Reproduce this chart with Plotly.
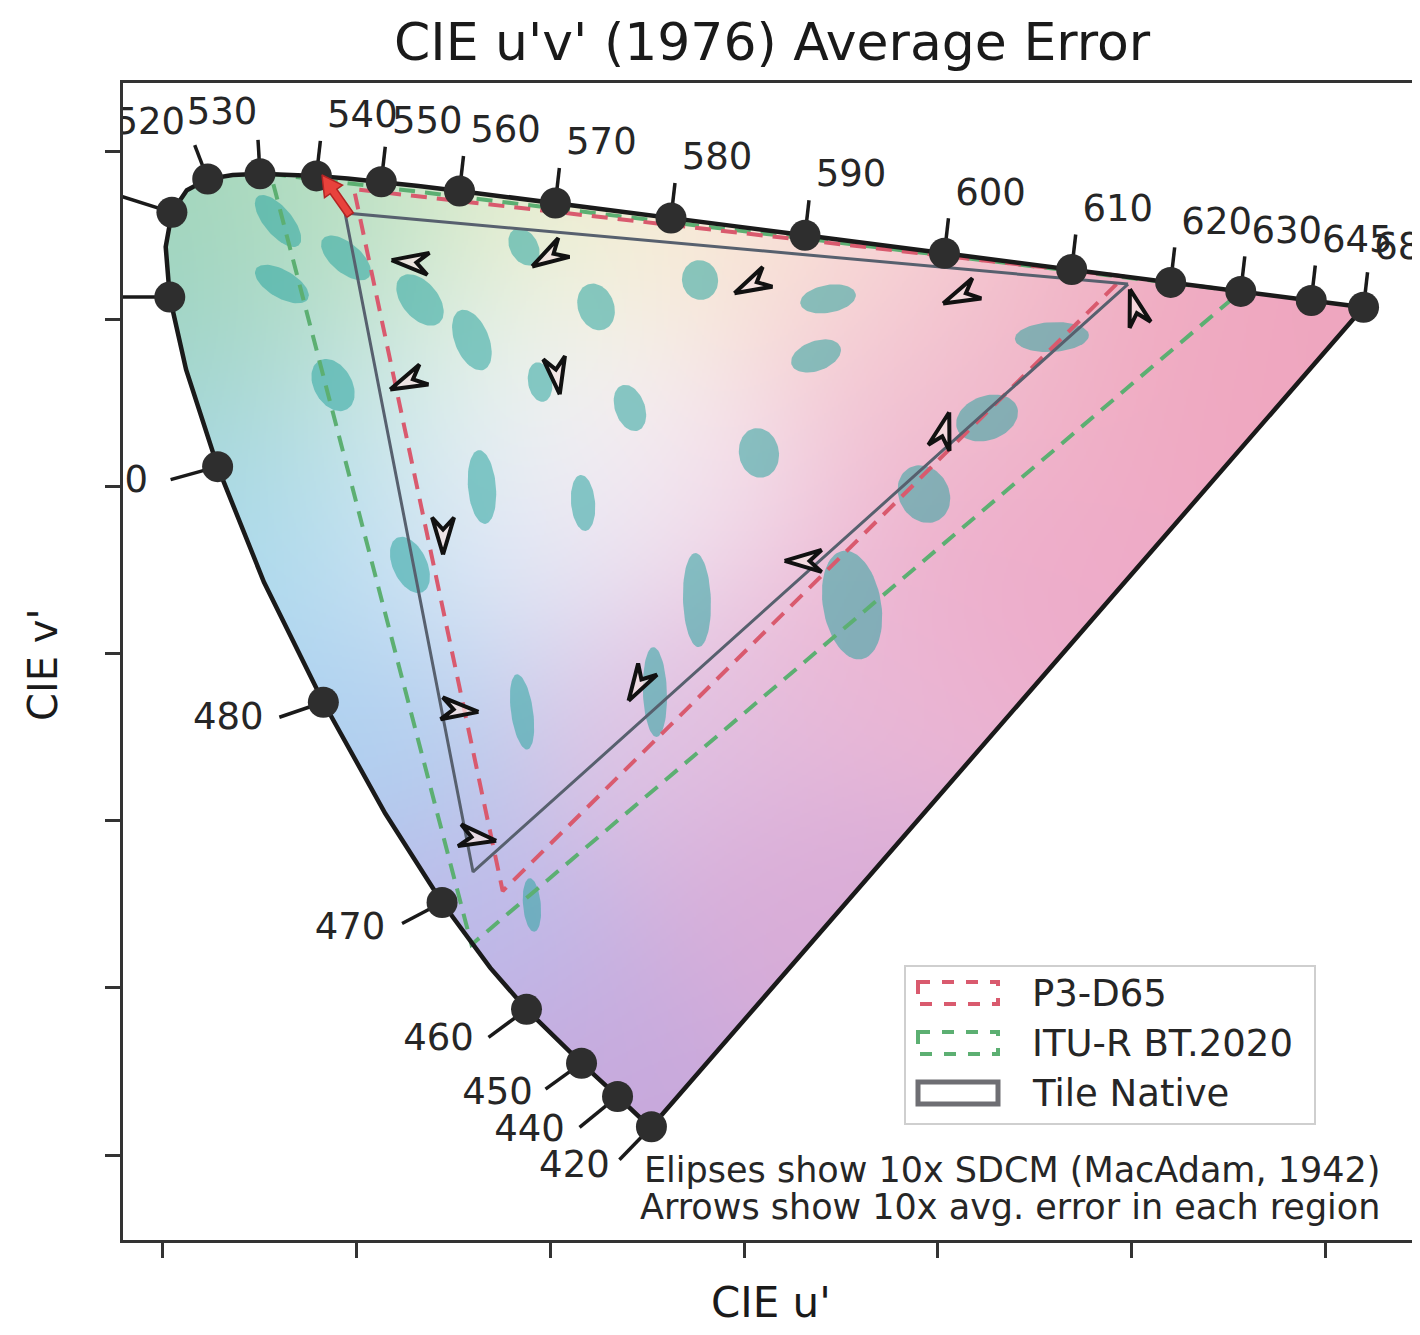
import base64
import struct
import zlib

import numpy as np
import plotly.graph_objects as go

# ---------------- data ----------------
title_text = "CIE u'v' (1976) Average Error"
x_title = "CIE u'"
y_title = "CIE v'"

# spectral locus (CIE 1931 2deg observer expressed in CIE 1976 u'v')
locus_nm = [420, 430, 440, 450, 460, 465, 470, 475, 480, 485, 490, 495, 500, 505, 510, 515,
            520, 525, 530, 535, 540, 545, 550, 555, 560, 565, 570, 575, 580, 585, 590, 595,
            600, 605, 610, 615, 620, 625, 630, 635, 640, 645, 650, 660, 680]
locus_u = [0.2522, 0.2461, 0.2347, 0.2161, 0.1877, 0.1690, 0.1441, 0.1147, 0.0828, 0.0521,
           0.0282, 0.0119, 0.0035, 0.0014, 0.0046, 0.0123, 0.0231, 0.0360, 0.0501, 0.0643,
           0.0792, 0.0953, 0.1127, 0.1319, 0.1531, 0.1766, 0.2026, 0.2312, 0.2623, 0.2960,
           0.3315, 0.3681, 0.4035, 0.4379, 0.4692, 0.4968, 0.5203, 0.5399, 0.5565, 0.5709,
           0.5830, 0.5929, 0.6005, 0.6109, 0.6199]
locus_v = [0.0169, 0.0226, 0.0350, 0.0549, 0.0871, 0.1119, 0.1510, 0.2044, 0.2708, 0.3427,
           0.4117, 0.4698, 0.5131, 0.5432, 0.5638, 0.5770, 0.5837, 0.5861, 0.5868, 0.5865,
           0.5856, 0.5841, 0.5821, 0.5796, 0.5766, 0.5732, 0.5694, 0.5651, 0.5604, 0.5554,
           0.5501, 0.5446, 0.5393, 0.5342, 0.5296, 0.5254, 0.5219, 0.5190, 0.5165, 0.5143,
           0.5125, 0.5111, 0.5099, 0.5084, 0.5070]
label_nm = [420, 440, 450, 460, 470, 480, 490, 500, 510, 520, 530, 540, 550, 560, 570,
            580, 590, 600, 610, 620, 630, 645, 680]

# gamuts (R, G, B primaries)
gamut_names = ["P3-D65", "ITU-R BT.2020", "Tile Native"]
p3_u = [0.4964, 0.0986, 0.1754]
p3_v = [0.5255, 0.5777, 0.1579]
bt2020_u = [0.5566, 0.0556, 0.1593]
bt2020_v = [0.5165, 0.5868, 0.1258]
tile_u = [0.4983, 0.0940, 0.1601]
tile_v = [0.5209, 0.5634, 0.1693]

# MacAdam ellipses (x10): centre, semi-axes, orientation (deg)
ellipse_u = [0.0594, 0.0614, 0.0945, 0.1327, 0.1595, 0.1864, 0.2236, 0.2773, 0.3434, 0.3372,
             0.2411, 0.1947, 0.0878, 0.1647, 0.2169, 0.3077, 0.1275, 0.2757, 0.1854, 0.2540,
             0.3558, 0.3929, 0.4255, 0.4590, 0.1905]
ellipse_v = [0.5586, 0.5209, 0.5365, 0.5114, 0.4874, 0.5431, 0.5072, 0.5233, 0.5120, 0.4779,
             0.4468, 0.4623, 0.4605, 0.3995, 0.3900, 0.4199, 0.3529, 0.3319, 0.2650, 0.2769,
             0.3289, 0.3953, 0.4408, 0.4892, 0.1495]
ellipse_a = [0.0165, 0.0155, 0.0155, 0.0155, 0.0165, 0.0103, 0.0124, 0.0103, 0.0145, 0.0134,
             0.0124, 0.0103, 0.0145, 0.0191, 0.0145, 0.0129, 0.0155, 0.0243, 0.0196, 0.0232,
             0.0284, 0.0155, 0.0165, 0.0191, 0.0139]
ellipse_b = [0.0072, 0.0072, 0.0077, 0.0093, 0.0088, 0.0072, 0.0093, 0.0093, 0.0072, 0.0077,
             0.0077, 0.0062, 0.0098, 0.0072, 0.0062, 0.0103, 0.0088, 0.0072, 0.0057, 0.0062,
             0.0150, 0.0129, 0.0114, 0.0077, 0.0046]
ellipse_angle = [-50, -30, -40, -50, -68, -60, -70, -80, 10, 20,
                 -70, -80, -60, -85, -85, -80, -65, -88, -82, -88,
                 -80, -60, 20, 3, -85]

# average error arrows (x10): region centre and error direction
arrow_u = [0.1275, 0.1988, 0.3036, 0.4115, 0.1260, 0.2034, 0.1446, 0.1534, 0.1626, 0.2453,
           0.3305, 0.4033, 0.5019]
arrow_v = [0.5341, 0.5371, 0.5203, 0.5138, 0.4623, 0.4659, 0.3702, 0.2661, 0.1896, 0.2811,
           0.3553, 0.4336, 0.5072]
arrow_du = [-0.0052, -0.0052, -0.0052, -0.0052, -0.0052, 0.0008, 0.0000, 0.0052, 0.0052,
            -0.0031, -0.0052, 0.0015, -0.0015]
arrow_dv = [0.0006, -0.0036, -0.0030, -0.0027, -0.0027, -0.0060, -0.0060, -0.0006, -0.0009,
            -0.0060, 0.0000, 0.0060, 0.0060]
# large error on the green primary (tail -> tip)
green_arrow_u = [0.0966, 0.0821]
green_arrow_v = [0.5622, 0.5861]

note_lines = ["Elipses show 10x SDCM (MacAdam, 1942)",
              "Arrows show 10x avg. error in each region"]
tick_vals = [0.0, 0.1, 0.2, 0.3, 0.4, 0.5, 0.6]

# ---------------- layout / style ----------------
OFF = 8  # page body margin of the html page
FIG_W, FIG_H = 1420 - OFF, 1335 - OFF
ML, MR, MT, MB = 123 - OFF, 0, 83 - OFF, 95
PW, PH = FIG_W - ML - MR, FIG_H - MT - MB
XR = [-0.02065, 0.64904]
YR = [-0.05084, 0.64115]
SX = PW / (XR[1] - XR[0])
SY = PH / (YR[1] - YR[0])
FONT = "DejaVu Sans"
TXT = "#262626"

RED = "#d95a6e"
GREEN = "#5caf72"
GRAY = "#57606e"

# (leader dx, leader dy, label dx, label dy) in screen px (y down)
TOP = (4, -35, 46, -58)
LABEL_STYLE = {
    420: (-32, 33, -77, 41), 440: (-38, 31, -88, 35), 450: (-36, 26, -84, 32),
    460: (-38, 28, -88, 31), 470: (-40, 21, -92, 27), 480: (-44, 15, -95, 18),
    490: (-47, 13, -105, 16), 500: (-60, 0, -110, 0), 510: (-60, -19, -110, -30),
    520: (-13, -34, -58, -54), 530: (-2, -34, -38, -59),
}

BG_ANCHORS = [
    (0.010, 0.540, (150, 208, 185)), (0.040, 0.570, (165, 216, 188)),
    (0.100, 0.570, (200, 230, 195)), (0.190, 0.560, (238, 240, 205)),
    (0.280, 0.550, (250, 235, 215)), (0.370, 0.535, (248, 215, 215)),
    (0.470, 0.515, (242, 186, 200)), (0.580, 0.505, (238, 165, 190)),
    (0.020, 0.470, (160, 212, 212)), (0.060, 0.380, (170, 218, 238)),
    (0.110, 0.260, (172, 208, 240)), (0.160, 0.130, (188, 188, 235)),
    (0.220, 0.040, (200, 168, 220)), (0.120, 0.470, (208, 234, 232)),
    (0.200, 0.460, (250, 250, 251)), (0.170, 0.360, (228, 234, 248)),
    (0.270, 0.400, (244, 224, 236)), (0.250, 0.250, (225, 195, 228)),
    (0.320, 0.150, (218, 172, 215)), (0.360, 0.300, (235, 183, 213)),
    (0.450, 0.360, (238, 170, 200)), (0.400, 0.450, (240, 190, 210)),
    (0.520, 0.470, (240, 166, 193)),
]


def paper(px, py):
    """page pixel -> paper coordinates"""
    return (px - OFF - ML) / PW, (FIG_H - MB - (py - OFF)) / PH


def png_data_uri(rgba):
    h, w, _ = rgba.shape
    raw = b"".join(b"\x00" + rgba[i].tobytes() for i in range(h))

    def chunk(tag, data):
        c = struct.pack(">I", len(data)) + tag + data
        return c + struct.pack(">I", zlib.crc32(tag + data) & 0xFFFFFFFF)

    png = (b"\x89PNG\r\n\x1a\n" + chunk(b"IHDR", struct.pack(">IIBBBBB", w, h, 8, 6, 0, 0, 0))
           + chunk(b"IDAT", zlib.compress(raw, 9)) + chunk(b"IEND", b""))
    return "data:image/png;base64," + base64.b64encode(png).decode()


# ---- background colour field, masked to the spectral locus ----
img_u0, img_u1 = -0.003, 0.628
img_v0, img_v1 = 0.010, 0.594
IW, IH = int((img_u1 - img_u0) * SX / 2), int((img_v1 - img_v0) * SY / 2)
gu = img_u0 + (np.arange(IW) + 0.5) / IW * (img_u1 - img_u0)
gv = img_v1 - (np.arange(IH) + 0.5) / IH * (img_v1 - img_v0)
UU, VV = np.meshgrid(gu, gv)
poly_u = np.array(locus_u + [locus_u[0]])
poly_v = np.array(locus_v + [locus_v[0]])
inside = np.zeros(UU.shape, dtype=bool)
j = len(poly_u) - 1
for i in range(len(poly_u)):
    xi, yi, xj, yj = poly_u[i], poly_v[i], poly_u[j], poly_v[j]
    cond = ((yi > VV) != (yj > VV)) & (UU < (xj - xi) * (VV - yi) / (yj - yi + 1e-12) + xi)
    inside ^= cond
    j = i
wsum = np.zeros(UU.shape)
col = np.zeros(UU.shape + (3,))
for au, av, c in BG_ANCHORS:
    w = np.exp(-((UU - au) ** 2 + (VV - av) ** 2) / (2 * 0.06 ** 2)) + 1e-9
    wsum += w
    col += w[..., None] * np.array(c, dtype=float)
col /= wsum[..., None]
rgba = np.zeros(UU.shape + (4,), dtype=np.uint8)
rgba[..., :3] = np.clip(col, 0, 255).astype(np.uint8)
rgba[..., 3] = np.where(inside, 255, 0).astype(np.uint8)

fig = go.Figure()
fig.add_layout_image(dict(source=png_data_uri(rgba), xref="x", yref="y", x=img_u0, y=img_v1,
                          sizex=img_u1 - img_u0, sizey=img_v1 - img_v0, sizing="stretch",
                          xanchor="left", yanchor="top", layer="below"))

# ---- ellipses ----
t = np.linspace(0, 2 * np.pi, 72)
for cu, cv, a, b, ang in zip(ellipse_u, ellipse_v, ellipse_a, ellipse_b, ellipse_angle):
    th = np.deg2rad(ang)
    ex = a * np.cos(t) * np.cos(th) - b * np.sin(t) * np.sin(th)
    ey = a * np.cos(t) * np.sin(th) + b * np.sin(t) * np.cos(th)
    fig.add_trace(go.Scatter(x=cu + ex, y=cv + ey * SX / SY, mode="lines", fill="toself",
                             fillcolor="rgba(45,165,160,0.55)", line=dict(width=0),
                             hoverinfo="skip", showlegend=False))

# ---- gamut triangles ----
for gu_, gv_, color, dash, width in [(bt2020_u, bt2020_v, GREEN, "16px,10px", 4),
                                     (p3_u, p3_v, RED, "16px,10px", 4),
                                     (tile_u, tile_v, GRAY, "solid", 3)]:
    fig.add_trace(go.Scatter(x=gu_ + gu_[:1], y=gv_ + gv_[:1], mode="lines",
                             line=dict(color=color, width=width, dash=dash),
                             hoverinfo="skip", showlegend=False))

# ---- spectral locus + purple line ----
fig.add_trace(go.Scatter(x=locus_u + [locus_u[0]], y=locus_v + [locus_v[0]], mode="lines",
                         line=dict(color="#1a1a1a", width=4.5), hoverinfo="skip",
                         showlegend=False))

# ---- wavelength markers, leaders and labels ----
lx, ly, tx, ty, tt, dx_, dy_ = [], [], [], [], [], [], []
for nm in label_nm:
    k = locus_nm.index(nm)
    u0, v0 = locus_u[k], locus_v[k]
    ldx, ldy, tdx, tdy = LABEL_STYLE.get(nm, TOP)
    lx += [u0, u0 + ldx / SX, None]
    ly += [v0, v0 - ldy / SY, None]
    tx.append(u0 + tdx / SX)
    ty.append(v0 - tdy / SY)
    tt.append(str(nm))
    dx_.append(u0)
    dy_.append(v0)
fig.add_trace(go.Scatter(x=lx, y=ly, mode="lines", line=dict(color="#1a1a1a", width=3.5),
                         hoverinfo="skip", showlegend=False))
fig.add_trace(go.Scatter(x=dx_, y=dy_, mode="markers",
                         marker=dict(size=31, color="#2e2e2e", line=dict(width=0)),
                         hoverinfo="skip", showlegend=False))
fig.add_trace(go.Scatter(x=tx, y=ty, mode="text", text=tt, textposition="middle center",
                         textfont=dict(family=FONT, size=37, color=TXT), cliponaxis=True,
                         hoverinfo="skip", showlegend=False))

# ---- error arrows ----
L, HW, NOTCH = 37, 11, 12
for cu, cv, du, dv in zip(arrow_u, arrow_v, arrow_du, arrow_dv):
    sx, sy = du * SX, dv * SY
    n = np.hypot(sx, sy)
    sx, sy = sx / n, sy / n
    px, py = -sy, sx
    pts = [(L / 2 * sx, L / 2 * sy),
           (-L / 2 * sx + HW * px, -L / 2 * sy + HW * py),
           ((-L / 2 + NOTCH) * sx, (-L / 2 + NOTCH) * sy),
           (-L / 2 * sx - HW * px, -L / 2 * sy - HW * py),
           (L / 2 * sx, L / 2 * sy)]
    fig.add_trace(go.Scatter(x=[cu + p[0] / SX for p in pts], y=[cv + p[1] / SY for p in pts],
                             mode="lines", fill="toself", fillcolor="rgba(245,225,225,0.75)",
                             line=dict(color="#111111", width=4), hoverinfo="skip",
                             showlegend=False))

# big red arrow
sx = (green_arrow_u[1] - green_arrow_u[0]) * SX
sy = (green_arrow_v[1] - green_arrow_v[0]) * SY
n = np.hypot(sx, sy)
ux, uy = sx / n, sy / n
px, py = -uy, ux
HL, HHW, SHW = 20, 11, 4
bx, by = (n - HL) * ux, (n - HL) * uy
pts = [(SHW * px, SHW * py), (bx + SHW * px, by + SHW * py), (bx + HHW * px, by + HHW * py),
       (sx, sy), (bx - HHW * px, by - HHW * py), (bx - SHW * px, by - SHW * py),
       (-SHW * px, -SHW * py), (SHW * px, SHW * py)]
fig.add_trace(go.Scatter(x=[green_arrow_u[0] + p[0] / SX for p in pts],
                         y=[green_arrow_v[0] + p[1] / SY for p in pts],
                         mode="lines", fill="toself", fillcolor="#e8423c",
                         line=dict(color="#b32424", width=1.5), hoverinfo="skip",
                         showlegend=False))

# ---- legend (drawn manually: dashed rectangles as in the original) ----
shapes = []
x0, y0 = paper(905, 966)
x1, y1 = paper(1315, 1124)
shapes.append(dict(type="rect", xref="paper", yref="paper", x0=x0, y0=y0, x1=x1, y1=y1,
                   line=dict(color="#cfcfcf", width=2), fillcolor="rgba(255,255,255,0.93)"))
annotations = []
for i, (name, color, dash, width) in enumerate([(gamut_names[0], RED, "dash", 4),
                                                 (gamut_names[1], GREEN, "dash", 4),
                                                 (gamut_names[2], "#6e6e73", "solid", 5)]):
    cy = 993 + i * 50
    a0, b0 = paper(918, cy - 11)
    a1, b1 = paper(998, cy + 11)
    shapes.append(dict(type="rect", xref="paper", yref="paper", x0=a0, y0=b0, x1=a1, y1=b1,
                       line=dict(color=color, width=width, dash=dash)))
    ax_, ay_ = paper(1030, cy)
    annotations.append(dict(text=name, xref="paper", yref="paper", x=ax_, y=ay_,
                            xanchor="left", yanchor="middle", showarrow=False,
                            font=dict(family=FONT, size=37, color=TXT)))

for line, py_ in zip(note_lines, [1170, 1207]):
    ax_, ay_ = paper(1382, py_)
    annotations.append(dict(text=line, xref="paper", yref="paper", x=ax_, y=ay_,
                            xanchor="right", yanchor="middle", showarrow=False,
                            font=dict(family=FONT, size=35, color=TXT)))

ax_, ay_ = paper(772, 42)
annotations.append(dict(text=title_text, xref="paper", yref="paper", x=ax_, y=ay_,
                        xanchor="center", yanchor="middle", showarrow=False,
                        font=dict(family=FONT, size=52, color="#1a1a1a")))
ax_, ay_ = paper(771, 1303)
annotations.append(dict(text=x_title, xref="paper", yref="paper", x=ax_, y=ay_,
                        xanchor="center", yanchor="middle", showarrow=False,
                        font=dict(family=FONT, size=42, color="#1a1a1a")))
ax_, ay_ = paper(43, 665)
annotations.append(dict(text=y_title, xref="paper", yref="paper", x=ax_, y=ay_,
                        xanchor="center", yanchor="middle", showarrow=False, textangle=-90,
                        font=dict(family=FONT, size=40, color="#1a1a1a")))

axis_common = dict(showgrid=False, zeroline=False, showticklabels=False, ticks="outside",
                   ticklen=15, tickwidth=3, tickcolor="#333333", showline=True,
                   linecolor="#333333", linewidth=3, tickvals=tick_vals)
fig.update_layout(
    width=FIG_W, height=FIG_H,
    margin=dict(l=ML, r=MR, t=MT, b=MB, pad=0),
    paper_bgcolor="white", plot_bgcolor="rgba(0,0,0,0)",
    xaxis=dict(range=XR, mirror=True, **axis_common),
    yaxis=dict(range=YR, mirror=False, **axis_common),
    shapes=shapes, annotations=annotations, showlegend=False,
    font=dict(family=FONT, color=TXT),
)
fig.write_html("out.html")
